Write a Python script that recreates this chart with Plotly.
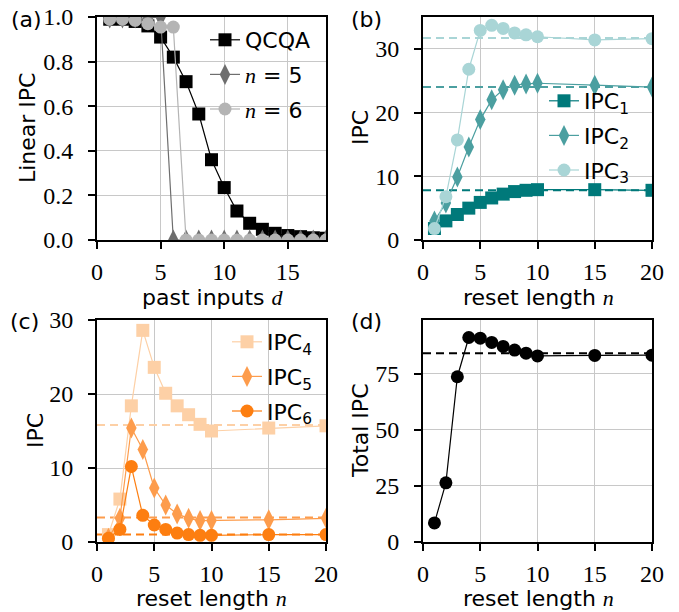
import plotly.graph_objects as go

W, H = 679, 612

# ---------------- data ----------------
past_d = [1, 2, 3, 4, 5, 6, 7, 8, 9, 10, 11, 12, 13, 14, 15, 16, 17, 18]
qcqa = [0.99, 0.99, 0.98, 0.96, 0.91, 0.82, 0.71, 0.565, 0.36, 0.235, 0.13, 0.075, 0.048, 0.03, 0.02, 0.015, 0.01, 0.008]
lin_n5 = [0.995, 0.995, 0.995, 0.995, 1.0, 0.0, 0.0, 0.0, 0.0, 0.0, 0.0, 0.0, 0.0, 0.0, 0.0, 0.0, 0.0, 0.0]
lin_n6 = [0.99, 0.99, 0.985, 0.97, 0.955, 0.955, 0.0, 0.0, 0.0, 0.0, 0.0, 0.0, 0.0, 0.0, 0.0, 0.0, 0.0, 0.0]

reset_n = [1, 2, 3, 4, 5, 6, 7, 8, 9, 10, 15, 20]
ipc1 = [1.8, 3.0, 4.0, 5.0, 5.9, 6.6, 7.2, 7.6, 7.8, 7.9, 7.9, 7.8]
ipc2 = [3.0, 5.8, 9.9, 14.6, 18.9, 22.0, 23.6, 24.3, 24.5, 24.6, 24.3, 24.0]
ipc3 = [1.8, 6.8, 15.7, 26.8, 32.9, 33.7, 33.2, 32.5, 32.2, 31.9, 31.4, 31.6]
ipc4 = [1.0, 5.8, 18.4, 28.6, 23.6, 20.1, 18.4, 17.2, 15.9, 15.0, 15.4, 15.7]
ipc5 = [0.5, 3.2, 15.4, 12.5, 7.3, 5.0, 3.8, 3.2, 2.9, 2.9, 3.0, 3.2]
ipc6 = [0.5, 1.7, 10.2, 3.6, 2.3, 1.7, 1.2, 1.0, 0.9, 0.9, 1.0, 1.0]
total_ipc = [8.5, 26.4, 73.7, 91.2, 90.9, 89.0, 87.2, 85.6, 84.2, 83.0, 83.2, 83.3]

asym_x = [0, 20]
asym_ipc = {"ipc1": 7.8, "ipc2": 24.0, "ipc3": 31.7, "ipc4": 15.8, "ipc5": 3.3, "ipc6": 1.0, "total": 84.2}

# ---------------- styles ----------------
C_Q, C_N5, C_N6 = "black", "#6e6e6e", "#b4b4b4"
C1, C2, C3 = "#00797a", "#4b9fa0", "#a9d5d6"
C4, C5, C6 = "#fdd0a6", "#fd9c4c", "#fd7e10"
SANS = "DejaVu Sans, sans-serif"
SERIF = "Liberation Serif, DejaVu Serif, serif"


def px(x):
    return x / W


def py(y):
    return 1 - y / H


fig = go.Figure()


def line_trace(x, y, color, symbol, size, name, xa, ya, legend, group):
    return go.Scatter(
        x=x, y=y, mode="lines+markers", name=name,
        line=dict(color=color, width=1.2),
        marker=dict(color=color, symbol=symbol, size=size, line=dict(width=0)),
        xaxis=xa, yaxis=ya, legend=legend, legendgroup=group,
        showlegend=legend is not None,
    )


def dash_trace(v, color, xa, ya):
    return go.Scatter(
        x=asym_x, y=[v, v], mode="lines", showlegend=False,
        line=dict(color=color, width=2, dash="8px,5px"),
        xaxis=xa, yaxis=ya, hoverinfo="skip",
    )


def mathn(s):
    return f"<span style=\"font-family:'Liberation Serif',serif\"><i>{s}</i></span>"


# (a)
fig.add_trace(line_trace(past_d, qcqa, C_Q, "square", 13, "QCQA", "x", "y", "legend", "a1"))
fig.add_trace(line_trace(past_d, lin_n5, C_N5, "diamond-tall", 15,
                         mathn("n") + " = 5", "x", "y", "legend", "a2"))
fig.add_trace(line_trace(past_d, lin_n6, C_N6, "circle", 13,
                         mathn("n") + " = 6", "x", "y", "legend", "a3"))

# (b)
fig.add_trace(dash_trace(asym_ipc["ipc1"], C1, "x2", "y2"))
fig.add_trace(dash_trace(asym_ipc["ipc2"], C2, "x2", "y2"))
fig.add_trace(dash_trace(asym_ipc["ipc3"], C3, "x2", "y2"))
fig.add_trace(line_trace(reset_n, ipc1, C1, "square", 13, "IPC<sub>1</sub>", "x2", "y2", "legend2", "b1"))
fig.add_trace(line_trace(reset_n, ipc2, C2, "diamond-tall", 15, "IPC<sub>2</sub>", "x2", "y2", "legend2", "b2"))
fig.add_trace(line_trace(reset_n, ipc3, C3, "circle", 13, "IPC<sub>3</sub>", "x2", "y2", "legend2", "b3"))

# (c)
fig.add_trace(dash_trace(asym_ipc["ipc4"], C4, "x3", "y3"))
fig.add_trace(dash_trace(asym_ipc["ipc5"], C5, "x3", "y3"))
fig.add_trace(dash_trace(asym_ipc["ipc6"], C6, "x3", "y3"))
fig.add_trace(line_trace(reset_n, ipc4, C4, "square", 13, "IPC<sub>4</sub>", "x3", "y3", "legend3", "c1"))
fig.add_trace(line_trace(reset_n, ipc5, C5, "diamond-tall", 15, "IPC<sub>5</sub>", "x3", "y3", "legend3", "c2"))
fig.add_trace(line_trace(reset_n, ipc6, C6, "circle", 13, "IPC<sub>6</sub>", "x3", "y3", "legend3", "c3"))

# (d)
fig.add_trace(dash_trace(asym_ipc["total"], "black", "x4", "y4"))
fig.add_trace(line_trace(reset_n, total_ipc, "black", "circle", 13, "Total", "x4", "y4", None, "d1"))

ax = dict(
    showline=True, linecolor="black", linewidth=2, mirror=True,
    ticks="outside", ticklen=7, tickwidth=2, tickcolor="black",
    showgrid=True, gridcolor="#c8c8c8", gridwidth=1, zeroline=False,
    automargin=False,
    tickfont=dict(family=SERIF, size=24, color="black"),
)
axx = dict(ax, ticklabelstandoff=2)
axy = dict(ax, ticklabelstandoff=10)

XL = [px(97), px(326)]
XR = [px(423), px(652)]
YT = [py(240), py(17)]
YB = [py(542), py(320)]

fig.update_layout(
    template="none",
    width=W, height=H, margin=dict(l=0, r=0, t=0, b=0, pad=0, autoexpand=False),
    paper_bgcolor="white", plot_bgcolor="white",
    font=dict(family=SANS, size=22, color="black"),
    xaxis=dict(axx, domain=XL, range=[0, 18], tickvals=[0, 5, 10, 15], anchor="y"),
    yaxis=dict(axy, domain=YT, range=[0, 1.0], tickvals=[0, 0.2, 0.4, 0.6, 0.8, 1.0], tickformat=".1f", anchor="x"),
    xaxis2=dict(axx, domain=XR, range=[0, 20], tickvals=[0, 5, 10, 15, 20], anchor="y2"),
    yaxis2=dict(axy, domain=YT, range=[0, 35], tickvals=[0, 10, 20, 30], anchor="x2"),
    xaxis3=dict(axx, domain=XL, range=[0, 20], tickvals=[0, 5, 10, 15, 20], anchor="y3"),
    yaxis3=dict(axy, domain=YB, range=[0, 30], tickvals=[0, 10, 20, 30], anchor="x3"),
    xaxis4=dict(axx, domain=XR, range=[0, 20], tickvals=[0, 5, 10, 15, 20], anchor="y4"),
    yaxis4=dict(axy, domain=YB, range=[0, 99], tickvals=[0, 25, 50, 75], anchor="x4"),
)

leg = dict(bgcolor="rgba(0,0,0,0)", borderwidth=0, xanchor="left", yanchor="top",
           tracegroupgap=3, font=dict(family=SANS, size=22, color="black"))
fig.update_layout(
    legend=dict(leg, x=px(205), y=py(19)),
    legend2=dict(leg, x=px(544), y=py(80)),
    legend3=dict(leg, x=px(227), y=py(321)),
)

annots = [
    ("(a)", 26, 19, 0), ("(b)", 366, 19, 0), ("(c)", 24, 321, 0), ("(d)", 366, 321, 0),
    ("Linear IPC", 27, 128, -90), ("past inputs " + mathn("d"), 213, 297, 0),
    ("IPC", 360, 128, -90), ("reset length " + mathn("n"), 538, 297, 0),
    ("IPC", 35, 431, -90), ("reset length " + mathn("n"), 211, 598, 0),
    ("Total IPC", 360, 431, -90), ("reset length " + mathn("n"), 538, 598, 0),
]
for t, x, y, rot in annots:
    fig.add_annotation(text=t, x=px(x), y=py(y), xref="paper", yref="paper",
                       showarrow=False, textangle=rot, xanchor="center", yanchor="middle",
                       font=dict(family=SANS, size=22, color="black"))

fig.write_html("out.html", config={"displayModeBar": False},
               post_script="document.body.style.margin='0';")
